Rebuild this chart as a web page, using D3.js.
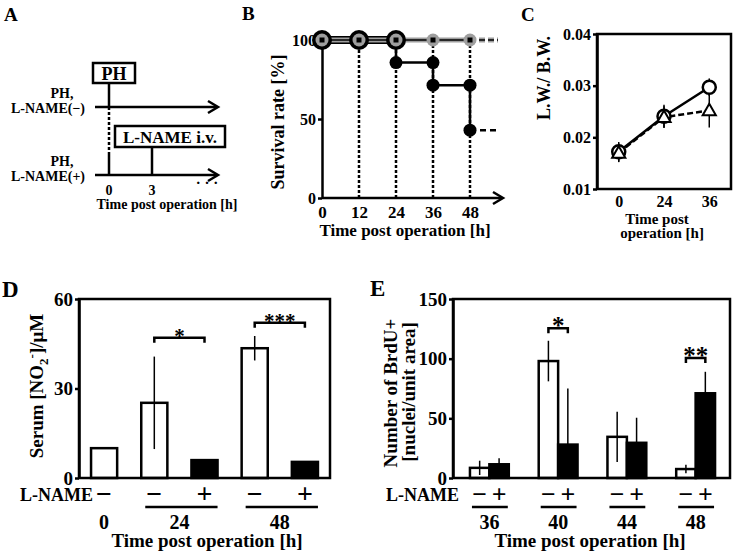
<!DOCTYPE html>
<html>
<head>
<meta charset="utf-8">
<script src="https://cdn.jsdelivr.net/npm/d3@7"></script>
<style>
  body { margin: 0; background: #fff; }
  text { font-family: "Liberation Serif", "Times New Roman", serif; font-weight: bold; fill: #000; }
</style>
</head>
<body>
<script>
// A: schedule
const scheduleTicks = [0, 3]
// B: survival
const survivalTimes = [0, 12, 24, 36, 48]
const survivalMinus = [100, 100, 100, 100, 100]
const survivalPlus = [100, 100, 85.7, 71.4, 42.9]
const survivalTicks = [0, 50, 100]
// C: liver / body weight
const lwTimes = ['0', '24', '36']
const lwMinus = [0.0172, 0.0241, 0.0297]
const lwMinusErr = [0.0019, 0.0022, 0.0017]
const lwPlus = [0.0170, 0.0239, 0.0252]
const lwPlusErr = [0.0018, 0.0021, 0.0033]
const lwTicks = [0.01, 0.02, 0.03, 0.04]
// D: serum NO2-
const no2Times = ['0', '24', '24', '48', '48']
const no2Signs = ['−', '−', '+', '−', '+']
const no2Values = [10, 25.2, 6.0, 43.5, 5.4]
const no2Err = [0.3, 15.5, 0.2, 4.1, 0.2]
const no2Ticks = [0, 30, 60]
const no2Sig = [{ a: 1, b: 2, level: 47, label: '*' }, { a: 3, b: 4, level: 52, label: '***' }]
// E: BrdU+
const brduTimes = ['36', '40', '44', '48']
const brduSigns = ['−', '+']
const brduMinus = [8.5, 98, 34.5, 7.5]
const brduMinusErr = [6, 17, 21, 3.5]
const brduPlus = [11.5, 28, 29.5, 71]
const brduPlusErr = [5, 47, 21, 18]
const brduTicks = [0, 50, 100, 150]
const brduSig = [{ time: '40', level: 125.5, label: '*' }, { time: '48', level: 100.5, label: '**' }]

const svg = d3.select('body').append('svg').attr('width', 734).attr('height', 553)
const LW = 2.5

const addText = (g, x, y, str, size, anchor = 'middle') =>
  g.append('text').attr('x', x).attr('y', y).attr('font-size', size).attr('text-anchor', anchor).text(str)
const addLine = (g, x1, y1, x2, y2, w = LW) =>
  g.append('line').attr('x1', x1).attr('y1', y1).attr('x2', x2).attr('y2', y2)
    .attr('stroke', '#000').attr('stroke-width', w)
const addArrow = (g, x1, x2, y) => {
  addLine(g, x1, y, x2 - 1, y)
  g.append('path').attr('d', `M${x2 - 10},${y - 6}L${x2},${y}L${x2 - 10},${y + 6}`)
    .attr('fill', 'none').attr('stroke', '#000').attr('stroke-width', LW)
}
const styleAxis = (g, size = 16) => {
  g.selectAll('path,line').attr('stroke', '#000').attr('stroke-width', LW)
  g.selectAll('text').attr('font-size', size).attr('fill', '#000')
  g.attr('font-family', null).attr('font-size', null)
}
const vLabel = (g, x, y, str, size) =>
  g.append('text').attr('transform', `translate(${x},${y}) rotate(-90)`)
    .attr('font-size', size).attr('text-anchor', 'middle').text(str)

// ---------- A ----------
const a = svg.append('g')
addText(a, 4, 21, 'A', 19, 'start')
const tA = d3.scaleLinear().domain([0, 3]).range([109, 152])
const rowsA = [{ y: 107, sign: '(−)' }, { y: 175, sign: '(+)' }]
rowsA.forEach(r => {
  addArrow(a, 95, 218, r.y)
  addText(a, 62, r.y - 9, 'PH,', 14)
  addText(a, 48, r.y + 6, 'L-NAME' + r.sign, 14)
})
a.append('rect').attr('x', tA(0) - 16).attr('y', 63).attr('width', 42).attr('height', 20)
  .attr('fill', '#fff').attr('stroke', '#000').attr('stroke-width', LW)
addText(a, tA(0) + 5, 80, 'PH', 18)
addLine(a, tA(0), 83, tA(0), 107)
a.append('line').attr('x1', tA(0)).attr('x2', tA(0)).attr('y1', 107).attr('y2', 152)
  .attr('stroke', '#000').attr('stroke-width', LW).attr('stroke-dasharray', '3,2')
addLine(a, tA(0), 152, tA(0), 175)
a.append('rect').attr('x', 115).attr('y', 126).attr('width', 110).attr('height', 21)
  .attr('fill', '#fff').attr('stroke', '#000').attr('stroke-width', LW)
addText(a, 170, 143, 'L-NAME i.v.', 17)
addLine(a, tA(3), 147, tA(3), 175)
scheduleTicks.forEach(t => addText(a, tA(t), 195, String(t), 14))
addText(a, 207, 188, '· · ·', 15)
addText(a, 167, 209, 'Time post operation [h]', 14)

// ---------- B ----------
const b = svg.append('g')
addText(b, 242, 20, 'B', 19, 'start')
const xB = d3.scaleLinear().domain([0, 48]).range([322, 470])
const yB = d3.scaleLinear().domain([0, 100]).range([198, 40])
const tEnd = xB.invert(498)

survivalTimes.slice(1).forEach(t => {
  b.append('line').attr('x1', xB(t)).attr('x2', xB(t)).attr('y1', yB(100)).attr('y2', yB(0))
    .attr('stroke', '#000').attr('stroke-width', LW).attr('stroke-dasharray', '3,2')
})
const axB = b.append('g').attr('transform', `translate(${xB(0)},0)`)
  .call(d3.axisLeft(yB).tickValues(survivalTicks).tickSize(4).tickSizeOuter(0).tickPadding(2))
styleAxis(axB, 16)
addArrow(b, xB(0), 503, yB(0))
const axBx = b.append('g').attr('transform', `translate(0,${yB(0)})`)
  .call(d3.axisBottom(xB).tickValues(survivalTimes).tickSize(0).tickPadding(8))
axBx.select('.domain').remove()
styleAxis(axBx, 17)

// black step line (L-NAME +)
const stepPts = [[survivalTimes[0], survivalPlus[0]]]
survivalTimes.forEach((t, i) => {
  if (i > 0) stepPts.push([t, survivalPlus[i - 1]], [t, survivalPlus[i]])
})
const lineB = d3.line().x(d => xB(d[0])).y(d => yB(d[1]))
let lastSame = 0
survivalPlus.forEach((v, i) => { if (v === survivalMinus[i]) lastSame = i })
const overlap = [[survivalTimes[0], survivalMinus[0]], [survivalTimes[lastSame + 1], survivalMinus[0]]]
b.append('path').attr('d', lineB(overlap)).attr('stroke', '#000').attr('stroke-width', 8).attr('fill', 'none')
b.append('path').attr('d', lineB(stepPts)).attr('stroke', '#000').attr('stroke-width', LW).attr('fill', 'none')
const lastPlus = survivalPlus[survivalPlus.length - 1]
b.append('path').attr('d', lineB([[48, lastPlus], [tEnd, lastPlus]]))
  .attr('stroke', '#000').attr('stroke-width', LW).attr('stroke-dasharray', '6,4').attr('fill', 'none')

// gray line (L-NAME -)
const minusPts = survivalTimes.map((t, i) => [t, survivalMinus[i]])
const lastMinus = survivalMinus[survivalMinus.length - 1]
b.append('path').attr('d', lineB(minusPts)).attr('stroke', '#9e9e9e').attr('stroke-width', 5).attr('fill', 'none')
b.append('path').attr('d', lineB(minusPts)).attr('stroke', '#000').attr('stroke-width', 1.5).attr('fill', 'none')
b.append('path').attr('d', lineB([[48, lastMinus], [tEnd, lastMinus]]))
  .attr('stroke', '#9e9e9e').attr('stroke-width', 5).attr('stroke-dasharray', '6,3').attr('fill', 'none')
b.append('path').attr('d', lineB([[48, lastMinus], [tEnd, lastMinus]]))
  .attr('stroke', '#000').attr('stroke-width', 1.5).attr('stroke-dasharray', '6,3').attr('fill', 'none')

// markers
const plusMarks = []
survivalTimes.forEach((t, i) => {
  const prev = i > 0 ? survivalPlus[i - 1] : survivalPlus[i]
  plusMarks.push({ t, v: prev, ring: prev === survivalMinus[i] })
  if (survivalPlus[i] !== prev) plusMarks.push({ t, v: survivalPlus[i], ring: false })
})
b.selectAll('circle.plus').data(plusMarks).join('circle').attr('class', 'plus')
  .attr('cx', d => xB(d.t)).attr('cy', d => yB(d.v)).attr('r', d => d.ring ? 10 : 6.5).attr('fill', '#000')
b.selectAll('circle.minus').data(minusPts).join('circle').attr('class', 'minus')
  .attr('cx', d => xB(d[0])).attr('cy', d => yB(d[1])).attr('r', 6.5).attr('fill', '#9e9e9e')
b.selectAll('rect.minus').data(minusPts).join('rect').attr('class', 'minus')
  .attr('x', d => xB(d[0]) - 2.5).attr('y', d => yB(d[1]) - 2.5).attr('width', 5).attr('height', 5).attr('fill', '#000')
vLabel(b, 284, 122, 'Survival rate [%]', 18)
addText(b, 405, 236, 'Time post operation [h]', 17)

// ---------- C ----------
const c = svg.append('g')
addText(c, 521, 21, 'C', 19, 'start')
const xC = d3.scalePoint().domain(lwTimes).range([597, 731]).padding(0.48)
const yC = d3.scaleLinear().domain([0.01, 0.04]).range([189, 34])
c.append('rect').attr('x', 597).attr('y', 34).attr('width', 134).attr('height', 155)
  .attr('fill', 'none').attr('stroke', '#000').attr('stroke-width', LW)
const axC = c.append('g').attr('transform', 'translate(597,0)')
  .call(d3.axisLeft(yC).tickValues(lwTicks).tickSize(4).tickSizeOuter(0).tickPadding(2).tickFormat(d3.format('.2f')))
styleAxis(axC, 16)
const axCx = c.append('g').attr('transform', 'translate(0,189)')
  .call(d3.axisBottom(xC).tickSize(0).tickPadding(7))
axCx.select('.domain').remove()
styleAxis(axCx, 16)

const seriesC = [
  { values: lwMinus, err: lwMinusErr, dash: null, shape: 'circle' },
  { values: lwPlus, err: lwPlusErr, dash: '6,3', shape: 'triangle' }
]
const lineC = d3.line().x((d, i) => xC(lwTimes[i])).y(d => yC(d))
seriesC.forEach(s => {
  s.values.forEach((v, i) => {
    addLine(c, xC(lwTimes[i]), yC(v - s.err[i]), xC(lwTimes[i]), yC(v + s.err[i]), 1.5)
  })
})
seriesC.forEach(s => {
  c.append('path').attr('d', lineC(s.values)).attr('fill', 'none').attr('stroke', '#000')
    .attr('stroke-width', LW).attr('stroke-dasharray', s.dash)
})
seriesC.forEach(s => {
  if (s.shape === 'circle') {
    c.selectAll(null).data(s.values).join('circle')
      .attr('cx', (d, i) => xC(lwTimes[i])).attr('cy', d => yC(d)).attr('r', 6.5)
      .attr('fill', '#fff').attr('stroke', '#000').attr('stroke-width', LW)
  } else {
    c.selectAll(null).data(s.values).join('path')
      .attr('d', d3.symbol(d3.symbolTriangle, 75))
      .attr('transform', (d, i) => `translate(${xC(lwTimes[i])},${yC(d) + 1})`)
      .attr('fill', '#fff').attr('stroke', '#000').attr('stroke-width', 2)
  }
})
vLabel(c, 550, 78, 'L.W./ B.W.', 18)
addText(c, 657, 224, 'Time post', 15)
addText(c, 662, 238, 'operation [h]', 15)

// ---------- D ----------
const dg = svg.append('g')
addText(dg, 2, 297, 'D', 23, 'start')
const xD = d3.scaleBand().domain(d3.range(no2Values.length)).range([79, 330]).paddingInner(0.48).paddingOuter(0.24)
const yD = d3.scaleLinear().domain([0, 60]).range([478, 299])
dg.selectAll('rect.bar').data(no2Values).join('rect').attr('class', 'bar')
  .attr('x', (d, i) => xD(i)).attr('y', d => yD(d)).attr('width', xD.bandwidth()).attr('height', d => yD(0) - yD(d))
  .attr('fill', (d, i) => no2Signs[i] === '+' ? '#000' : '#fff').attr('stroke', '#000').attr('stroke-width', LW)
no2Values.forEach((v, i) => {
  const cx = xD(i) + xD.bandwidth() / 2
  addLine(dg, cx, yD(v - no2Err[i]), cx, yD(v + no2Err[i]), 1.5)
})
dg.append('rect').attr('x', 79).attr('y', 299).attr('width', 251).attr('height', 179)
  .attr('fill', 'none').attr('stroke', '#000').attr('stroke-width', LW)
const axD = dg.append('g').attr('transform', 'translate(79,0)')
  .call(d3.axisLeft(yD).tickValues(no2Ticks).tickSize(4).tickSizeOuter(0).tickPadding(2))
styleAxis(axD, 19)
no2Sig.forEach(s => {
  const x1 = xD(s.a) + xD.bandwidth() / 2, x2 = xD(s.b) + xD.bandwidth() / 2, y = yD(s.level)
  dg.append('path').attr('d', `M${x1},${y + 5}V${y}H${x2}V${y + 5}`)
    .attr('fill', 'none').attr('stroke', '#000').attr('stroke-width', LW)
  addText(dg, (x1 + x2) / 2, y + 5, s.label, 21)
})
addText(dg, 93, 501, 'L-NAME', 18, 'end')
no2Signs.forEach((s, i) => addText(dg, xD(i) + xD.bandwidth() / 2, 503, s, 28))
d3.groups(d3.range(no2Times.length), i => no2Times[i]).forEach(([t, idx]) => {
  const x1 = xD(idx[0]), x2 = xD(idx[idx.length - 1]) + xD.bandwidth()
  if (idx.length > 1) addLine(dg, x1 + 4, 507, x2, 507)
  addText(dg, (x1 + x2) / 2, 529, t, 20)
})
const no2Label = dg.append('text').attr('transform', 'translate(43,386) rotate(-90)')
  .attr('font-size', 19).attr('text-anchor', 'middle')
no2Label.append('tspan').text('Serum [NO')
no2Label.append('tspan').attr('font-size', 13).attr('dy', 5).text('2')
no2Label.append('tspan').attr('font-size', 13).attr('dy', -12).text('-')
no2Label.append('tspan').attr('dy', 7).text(']/μM')
addText(dg, 207, 547, 'Time post operation [h]', 19)

// ---------- E ----------
const e = svg.append('g')
addText(e, 370, 296, 'E', 23, 'start')
const xE = d3.scaleBand().domain(brduTimes).range([455, 730]).paddingInner(0.435).paddingOuter(0.2175)
const xE2 = d3.scaleBand().domain(brduSigns).range([0, xE.bandwidth()])
const yE = d3.scaleLinear().domain([0, 150]).range([478, 299])
const brduRows = brduTimes.flatMap((t, i) => [
  { t, s: '−', v: brduMinus[i], err: brduMinusErr[i] },
  { t, s: '+', v: brduPlus[i], err: brduPlusErr[i] }
])
const cxE = d => xE(d.t) + xE2(d.s) + xE2.bandwidth() / 2
e.selectAll('rect.bar').data(brduRows).join('rect').attr('class', 'bar')
  .attr('x', d => xE(d.t) + xE2(d.s)).attr('y', d => yE(d.v)).attr('width', xE2.bandwidth())
  .attr('height', d => yE(0) - yE(d.v))
  .attr('fill', d => d.s === '+' ? '#000' : '#fff').attr('stroke', '#000').attr('stroke-width', LW)
brduRows.forEach(d => addLine(e, cxE(d), yE(Math.max(0, d.v - d.err)), cxE(d), yE(d.v + d.err), 1.5))
e.append('rect').attr('x', 453).attr('y', 299).attr('width', 277).attr('height', 179)
  .attr('fill', 'none').attr('stroke', '#000').attr('stroke-width', LW)
const axE = e.append('g').attr('transform', 'translate(453,0)')
  .call(d3.axisLeft(yE).tickValues(brduTicks).tickSize(4).tickSizeOuter(0).tickPadding(2))
styleAxis(axE, 19)
brduSig.forEach(s => {
  const x1 = cxE({ t: s.time, s: '−' }), x2 = cxE({ t: s.time, s: '+' }), y = yE(s.level)
  e.append('path').attr('d', `M${x1},${y + 5}V${y}H${x2}V${y + 5}`)
    .attr('fill', 'none').attr('stroke', '#000').attr('stroke-width', LW)
  addText(e, (x1 + x2) / 2, y + 6, s.label, 25)
})
addText(e, 459, 501, 'L-NAME', 18, 'end')
brduRows.forEach(d => addText(e, cxE(d), 503, d.s, 26))
brduTimes.forEach(t => {
  addLine(e, xE(t) + 2, 507, xE(t) + xE.bandwidth() - 1, 507)
  addText(e, xE(t) + xE.bandwidth() / 2, 529, t, 20)
})
vLabel(e, 397, 393, 'Number of BrdU+', 19)
vLabel(e, 415, 392, '[nuclei/unit area]', 19)
addText(e, 590, 547, 'Time post operation [h]', 19)
</script>
</body>
</html>
